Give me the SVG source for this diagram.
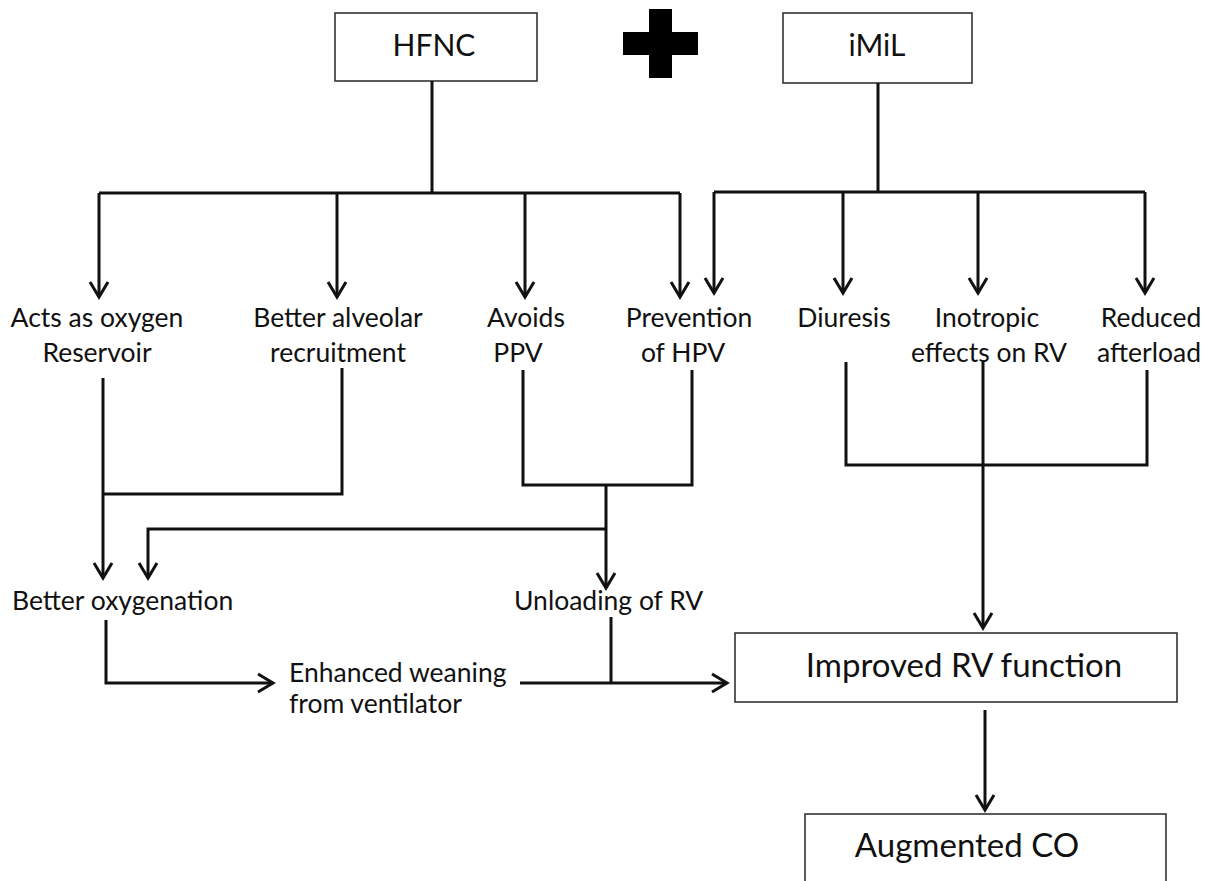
<svg xmlns="http://www.w3.org/2000/svg" width="1211" height="881" viewBox="0 0 1211 881">
<style>
.box{fill:#fff;stroke:#333;stroke-width:1.6}
.t{font-family:Lato,"Liberation Sans",sans-serif;font-size:26.5px;fill:#111;text-anchor:middle}
.tl{font-family:Lato,"Liberation Sans",sans-serif;font-size:26.5px;fill:#111}
.big{font-size:30px}
.big2{font-size:33px}
.c{fill:none;stroke:#111;stroke-width:3}
.a{marker-end:url(#arr)}
</style>
<defs>
<marker id="arr" markerUnits="userSpaceOnUse" markerWidth="30" markerHeight="30" viewBox="-20 -15 30 30" refX="0" refY="0" orient="auto">
<path d="M-15,-9 L0,0 L-15,9" fill="none" stroke="#111" stroke-width="3"/>
</marker>
</defs>
<rect width="1211" height="881" fill="#fff"/>
<g id="hfnc"><rect class="box" x="335" y="13" width="202" height="68"/><text class="t big" x="434" y="56">HFNC</text></g>
<g id="plus"><rect x="623" y="32" width="75" height="23" fill="#000"/><rect x="649" y="9" width="23" height="69" fill="#000"/></g>
<g id="imil"><rect class="box" x="783" y="13" width="189" height="70"/><text class="t big" x="877" y="56">iMiL</text></g>
<g id="n-acts"><text class="t" x="97" y="327">Acts as oxygen</text><text class="t" x="97" y="362">Reservoir</text></g>
<g id="n-alv"><text class="t" x="338" y="327">Better alveolar</text><text class="t" x="338" y="362">recruitment</text></g>
<g id="n-ppv"><text class="t" x="526" y="327">Avoids</text><text class="t" x="518" y="362">PPV</text></g>
<g id="n-hpv"><text class="t" x="689" y="327">Prevention</text><text class="t" x="683" y="362">of HPV</text></g>
<g id="n-diu"><text class="t" x="844" y="327">Diuresis</text></g>
<g id="n-ino"><text class="t" x="987" y="327">Inotropic</text><text class="t" x="989" y="362">effects on RV</text></g>
<g id="n-red"><text class="t" x="1151" y="327">Reduced</text><text class="t" x="1149" y="362">afterload</text></g>
<g id="n-oxy"><text class="tl" x="12" y="610">Better oxygenation</text></g>
<g id="n-unl"><text class="tl" x="514" y="610">Unloading of RV</text></g>
<g id="n-wean"><text class="tl" x="289" y="682">Enhanced weaning</text><text class="tl" x="289" y="713">from ventilator</text></g>
<g id="n-rv"><rect class="box" x="735" y="633" width="442" height="69"/><text class="t big2" x="964" y="677">Improved RV function</text></g>
<g id="n-co"><rect class="box" x="805" y="814" width="361" height="80"/><text class="t big2" x="967" y="857">Augmented CO</text></g>
<g id="connectors">
<path class="c" d="M432,81 V193 M99,193 H680"/>
<path class="c a" d="M99,193 V297"/>
<path class="c a" d="M337,193 V297"/>
<path class="c a" d="M525,193 V297"/>
<path class="c a" d="M680,193 V297"/>
<path class="c" d="M878,83 V192 M714,192 H1145"/>
<path class="c a" d="M714,192 V293"/>
<path class="c a" d="M843,192 V293"/>
<path class="c a" d="M978,192 V293"/>
<path class="c a" d="M1145,192 V293"/>
<path class="c a" d="M103,378 V578"/>
<path class="c" d="M342,368 V494 H103"/>
<path class="c" d="M523,370 V485 H692 V370"/>
<path class="c a" d="M606,485 V588"/>
<path class="c a" d="M606,529 H148 V578"/>
<path class="c a" d="M106,620 V683 H273"/>
<path class="c a" d="M520,683 H727"/>
<path class="c" d="M611,617 V683"/>
<path class="c" d="M846,362 V465 H1147 V370"/>
<path class="c a" d="M983,360 V628"/>
<path class="c a" d="M985,710 V810"/>
</g>
</svg>
